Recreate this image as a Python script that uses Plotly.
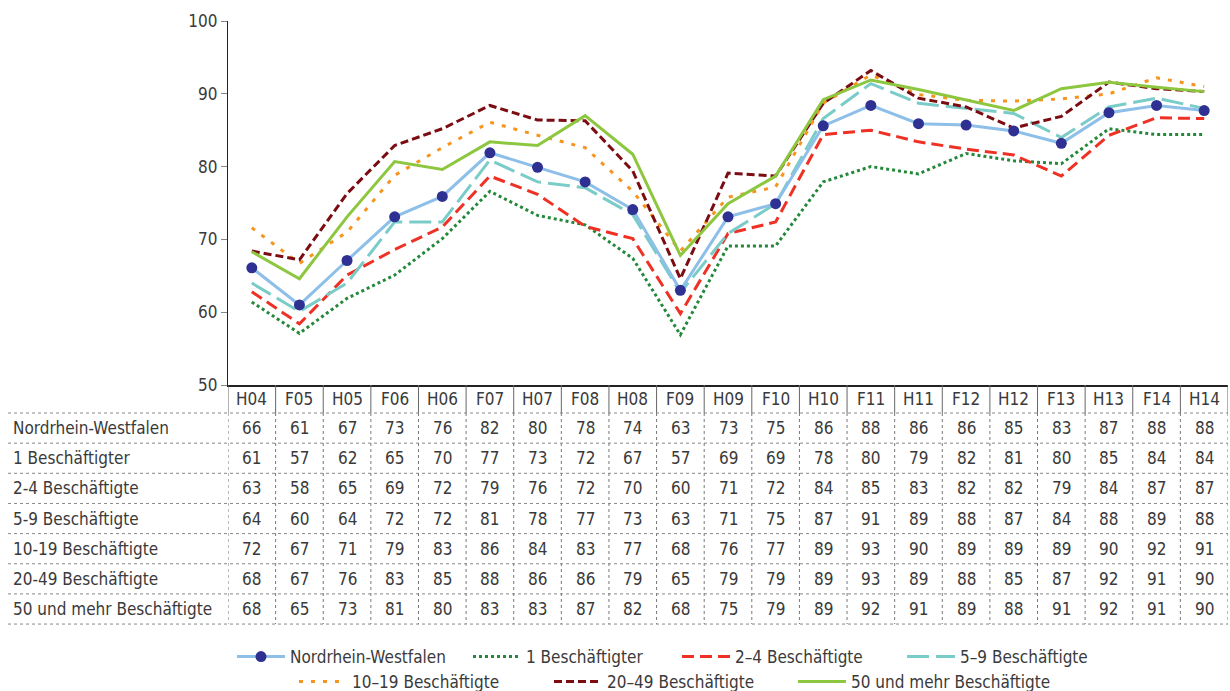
import plotly.graph_objects as go

# ---------------- data ----------------
periods = ["H04", "F05", "H05", "F06", "H06", "F07", "H07", "F08", "H08", "F09", "H09",
           "F10", "H10", "F11", "H11", "F12", "H12", "F13", "H13", "F14", "H14"]

table_labels = ["Nordrhein-Westfalen", "1 Beschäftigter", "2-4 Beschäftigte", "5-9 Beschäftigte",
                "10-19 Beschäftigte", "20-49 Beschäftigte", "50 und mehr Beschäftigte"]
legend_labels = ["Nordrhein-Westfalen", "1 Beschäftigter", "2–4 Beschäftigte", "5–9 Beschäftigte",
                 "10–19 Beschäftigte", "20–49 Beschäftigte", "50 und mehr Beschäftigte"]

nrw = [66.1, 61.0, 67.1, 73.1, 75.9, 81.9, 79.9, 77.9, 74.1, 63.0, 73.1, 74.9, 85.6, 88.4, 85.9, 85.7, 84.9, 83.2, 87.4, 88.4, 87.7]
b1 = [61.4, 57.1, 61.9, 65.1, 70.1, 76.6, 73.3, 72.0, 67.4, 56.9, 69.1, 69.1, 77.9, 80.0, 79.0, 81.8, 80.8, 80.4, 85.2, 84.4, 84.4]
b2_4 = [62.8, 58.4, 65.1, 68.6, 71.7, 78.7, 76.2, 71.8, 70.1, 59.8, 70.8, 72.4, 84.4, 85.0, 83.4, 82.4, 81.6, 78.7, 84.3, 86.7, 86.6]
b5_9 = [64.0, 60.1, 64.0, 72.4, 72.4, 80.9, 77.9, 77.1, 73.4, 62.7, 70.8, 74.9, 86.6, 91.4, 88.7, 88.0, 87.3, 84.0, 88.2, 89.4, 88.0]
b10_19 = [71.6, 66.7, 71.0, 78.8, 82.6, 86.1, 84.3, 82.6, 76.6, 68.4, 75.8, 77.2, 88.7, 92.6, 89.9, 89.1, 89.0, 89.3, 90.0, 92.2, 91.0]
b20_49 = [68.4, 67.2, 76.3, 82.9, 85.2, 88.4, 86.4, 86.3, 79.4, 64.6, 79.1, 78.7, 88.7, 93.2, 89.4, 88.2, 85.3, 86.9, 91.6, 90.7, 90.3]
b50 = [68.3, 64.6, 73.1, 80.7, 79.6, 83.4, 82.9, 87.0, 81.7, 67.8, 74.9, 78.7, 89.2, 91.9, 90.6, 89.2, 87.7, 90.7, 91.6, 90.9, 90.3]

series = [nrw, b1, b2_4, b5_9, b10_19, b20_49, b50]

# ---------------- styles ----------------
W, H = 1230, 691
FONT = "DejaVu Sans Condensed, Liberation Sans Narrow, Arial Narrow, sans-serif"
TXT = "#3a3a3a"
FS = 17

styles = [
    dict(color="#8DBFE8", dash="solid", width=3),
    dict(color="#23883A", dash="3px,3px", width=3),
    dict(color="#EE3124", dash="12px,6px", width=3),
    dict(color="#7ACCC8", dash="22px,7px", width=3),
    dict(color="#F7941D", dash="4px,8px", width=3),
    dict(color="#7B0C12", dash="8px,4px", width=3),
    dict(color="#8DC63F", dash="solid", width=3),
]

# pixel layout
PLOT_L, PLOT_R = 228, 1228
PLOT_T, PLOT_B = 21, 385
ROW_TOP = 413
ROW_H = 30.15
LABEL_X = 11


def py(y):
    return 1 - y / H


def px(x):
    return x / W


fig = go.Figure()

legend_names = ["legend", "legend2", "legend3", "legend4", "legend5", "legend6", "legend7"]
for i, (name, vals, st) in enumerate(zip(legend_labels, series, styles)):
    kw = dict(
        x=periods, y=vals, name=name, legend=legend_names[i],
        line=dict(color=st["color"], dash=st["dash"], width=st["width"]),
        hoverinfo="x+y+name",
    )
    if i == 0:
        kw["mode"] = "lines+markers"
        kw["marker"] = dict(color="#2E3192", size=11, line=dict(width=0))
    else:
        kw["mode"] = "lines"
    fig.add_trace(go.Scatter(**kw))

# draw NRW on top of everything
fig.data = fig.data[1:] + fig.data[:1]

shapes = []
annotations = []

n = len(periods)
# header vertical separators (solid)
for k in range(n + 1):
    shapes.append(dict(type="line", xref="x", yref="paper",
                       x0=k - 0.5, x1=k - 0.5, y0=py(PLOT_B), y1=py(ROW_TOP),
                       line=dict(color="#666666", width=1)))
# data vertical separators (dotted)
bottom = ROW_TOP + ROW_H * len(series)
for k in range(n + 1):
    shapes.append(dict(type="line", xref="x", yref="paper",
                       x0=k - 0.5, x1=k - 0.5, y0=py(ROW_TOP), y1=py(bottom),
                       line=dict(color="#777777", width=1, dash="dot")))
# horizontal dotted lines
for r in range(len(series) + 1):
    yy = ROW_TOP + ROW_H * r
    shapes.append(dict(type="line", xref="paper", yref="paper",
                       x0=px(8), x1=px(PLOT_R), y0=py(yy), y1=py(yy),
                       line=dict(color="#888888", width=1, dash="dot")))

# header labels
for p in periods:
    annotations.append(dict(x=p, y=py((PLOT_B + ROW_TOP) / 2), xref="x", yref="paper",
                            text=p, showarrow=False, xanchor="center", yanchor="middle",
                            font=dict(family=FONT, size=FS, color=TXT)))
# rows
for r, (lab, vals) in enumerate(zip(table_labels, series)):
    yc = py(ROW_TOP + ROW_H * (r + 0.5))
    annotations.append(dict(x=px(LABEL_X), y=yc, xref="paper", yref="paper", text=lab,
                            showarrow=False, xanchor="left", yanchor="middle",
                            font=dict(family=FONT, size=FS, color=TXT)))
    for p, v in zip(periods, vals):
        annotations.append(dict(x=p, y=yc, xref="x", yref="paper", text=f"{v:.0f}",
                                showarrow=False, xanchor="center", yanchor="middle",
                                font=dict(family=FONT, size=FS, color=TXT)))

# legends: box left positions (px) and row centers
leg_x = [232, 468, 677, 902, 294, 549, 793]
leg_y = [657, 657, 657, 657, 682, 682, 682]
layout_legends = {}
for i, ln in enumerate(legend_names):
    layout_legends[ln] = dict(
        x=px(leg_x[i]), y=py(leg_y[i]), xref="paper", yref="paper",
        xanchor="left", yanchor="middle", orientation="h",
        bgcolor="rgba(0,0,0,0)", borderwidth=0, itemwidth=48,
        font=dict(family=FONT, size=FS, color=TXT),
    )

fig.update_layout(
    width=W, height=H,
    margin=dict(l=0, r=0, t=0, b=0, pad=0, autoexpand=False),
    paper_bgcolor="white", plot_bgcolor="white",
    showlegend=True,
    font=dict(family=FONT, size=FS, color=TXT),
    xaxis=dict(domain=[px(PLOT_L), px(PLOT_R)], range=[-0.5, n - 0.5], type="category",
               showticklabels=False, ticks="", showgrid=False, zeroline=False,
               showline=True, linecolor="#222222", linewidth=1.5, fixedrange=True),
    yaxis=dict(domain=[py(PLOT_B), py(PLOT_T)], range=[50, 100], dtick=10, tick0=50,
               ticks="outside", ticklen=6, tickcolor="#888888", tickwidth=1,
               showgrid=False, zeroline=False, showline=True, linecolor="#222222", linewidth=1.2,
               tickfont=dict(family=FONT, size=FS, color=TXT), fixedrange=True),
    shapes=shapes,
    annotations=annotations,
    **layout_legends,
)

fig.write_html("out.html", config={"displayModeBar": False},
               post_script="document.body.style.margin='0';")
